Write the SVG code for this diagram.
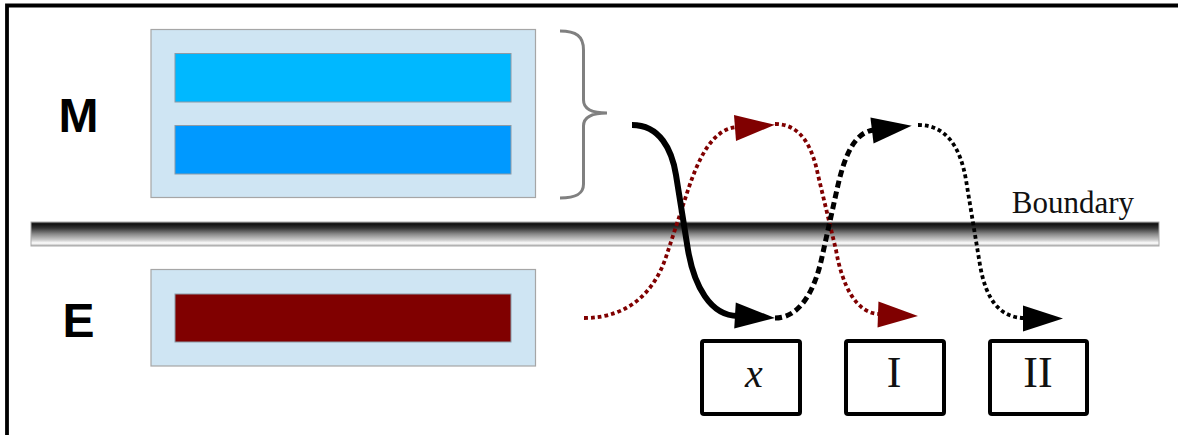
<svg xmlns="http://www.w3.org/2000/svg" width="1178" height="435" viewBox="0 0 1178 435">
<style>
.outer{fill:#cfe5f3;stroke:#a6a6a6;stroke-width:1.2}
.bar{stroke:#8c9aa6;stroke-width:1}
.lbl{font-family:"Liberation Sans",Arial,sans-serif;font-weight:bold;font-size:48px;fill:#000;text-anchor:middle}
.ser{font-family:"Liberation Serif","Times New Roman",serif;fill:#111;text-anchor:middle}
.box{fill:#fff;stroke:#000;stroke-width:4}
.c{fill:none}
.solid{stroke:#000;stroke-width:6}
.dash{stroke:#000;stroke-width:5;stroke-dasharray:7 4}
.dotk{stroke:#000;stroke-width:3.8;stroke-dasharray:3.8 3}
.dotr{stroke:#800000;stroke-width:3.8;stroke-dasharray:3.8 3}
</style>
<defs>
<linearGradient id="bg" x1="0" y1="0" x2="0" y2="1">
<stop offset="0" stop-color="#444"/>
<stop offset="0.08" stop-color="#111"/>
<stop offset="0.25" stop-color="#333"/>
<stop offset="0.5" stop-color="#888"/>
<stop offset="0.75" stop-color="#ccc"/>
<stop offset="0.88" stop-color="#fff"/>
<stop offset="1" stop-color="#aaa"/>
</linearGradient>
<path id="ah" d="M0,-13 L40,0 L0,13 Z"/>
</defs>
<rect width="1178" height="435" fill="#fff"/>
<path d="M7,435 L7,5.5 L1178,5.5" fill="none" stroke="#000" stroke-width="3.8"/>

<g id="boundary">
<rect x="31" y="222" width="1128" height="24" fill="url(#bg)" stroke="#aaa" stroke-width="1"/>
<text class="ser" x="1073" y="213" font-size="31">Boundary</text>
</g>

<g id="M">
<text class="lbl" x="78.5" y="132">M</text>
<rect class="outer" x="151" y="29.5" width="384.5" height="168"/>
<rect class="bar" x="175" y="53.5" width="336" height="48.5" fill="#00b8ff"/>
<rect class="bar" x="175" y="125.5" width="336" height="48.5" fill="#0099ff"/>
<path d="M560,31 C576,31 583.5,36 583.5,50 L583.5,100 C583.5,109 591,113 607,113 C591,113 583.5,117 583.5,126 L583.5,184 C583.5,194 576,198 560,198" fill="none" stroke="#808080" stroke-width="3"/>
</g>

<g id="E">
<text class="lbl" x="78.5" y="337">E</text>
<rect class="outer" x="151" y="269.5" width="384.5" height="96.5"/>
<rect class="bar" x="175" y="294" width="336" height="48" fill="#800000"/>
</g>

<g id="boxX">
<rect class="box" x="702" y="341" width="98" height="73" rx="2"/>
<text class="ser" x="754" y="387" font-size="40" font-style="italic">x</text>
</g>
<g id="boxI">
<rect class="box" x="846" y="341" width="98" height="73" rx="2"/>
<text class="ser" x="894" y="387" font-size="44">I</text>
</g>
<g id="boxII">
<rect class="box" x="990" y="341" width="97" height="73" rx="2"/>
<text class="ser" x="1038" y="387" font-size="44">II</text>
</g>

<g id="connectors">
<path class="c dotr" d="M584,318 C630,318 655,290 666,257 L688,190 C698,160 712,128 738,127"/>
<use href="#ah" fill="#800000" transform="translate(735,128) rotate(-4.5)"/>
<path class="c dotr" d="M775,124 C800,124 812,145 818,175 L836,250 C842,285 856,314 880,314"/>
<use href="#ah" fill="#800000" transform="translate(878,314.5) rotate(2)"/>
<path class="c solid" d="M632,125 C660,125 672,150 676,175 L688,250 C694,285 710,316 738,316"/>
<use href="#ah" fill="#000" transform="translate(735,315.5) rotate(3.5)"/>
<path class="c dash" d="M775,318 C800,318 815,290 822,257 L838,185 C845,155 855,131 875,130"/>
<use href="#ah" fill="#000" transform="translate(872,130.5) rotate(-7)"/>
<path class="c dotk" d="M918,125 C945,125 960,145 966,180 L980,265 C986,300 1000,318 1025,318"/>
<use href="#ah" fill="#000" transform="translate(1023,318.5)"/>
</g>
</svg>
